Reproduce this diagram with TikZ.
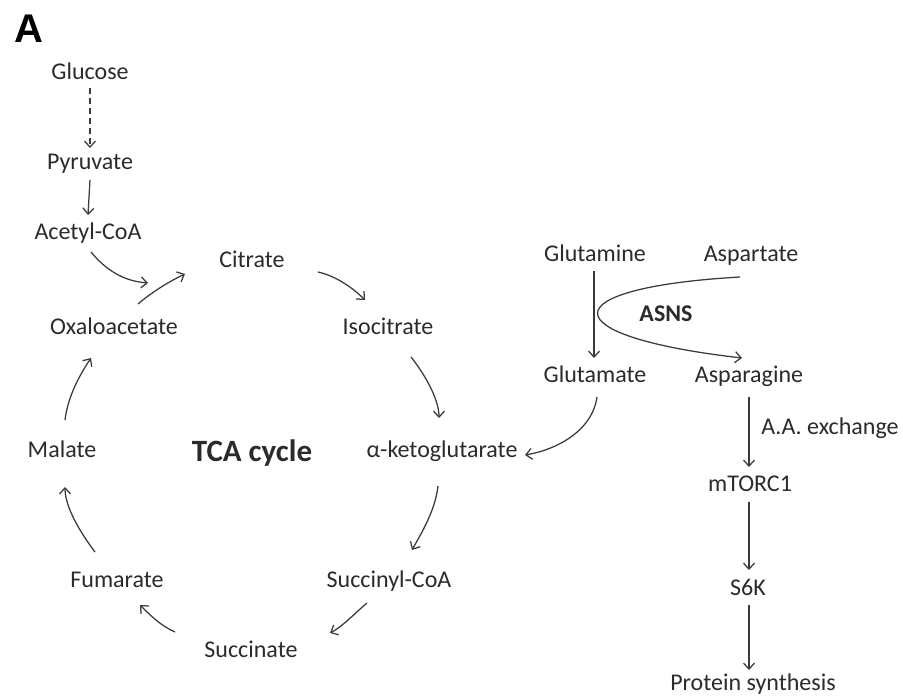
\documentclass[tikz,border=0pt]{standalone}
\usepackage{fontspec}
\setmainfont{Carlito}
\newfontfamily\panelfont{Liberation Sans}
\usetikzlibrary{arrows.meta}
\definecolor{txt}{HTML}{2B2B2B}
\definecolor{ln}{HTML}{3A3A3A}
\begin{document}
\begin{tikzpicture}[x=1pt,y=-1pt,
  lbl/.style={anchor=base,inner sep=0pt,text=txt,font=\fontsize{24}{28}\selectfont},
  blbl/.style={lbl,font=\fontsize{24}{28}\selectfont\bfseries},
  arr/.style={draw=ln,line width=1.25pt,-{Straight Barb[length=6pt,width=11pt]}}]
\useasboundingbox[fill=white] (0,0) rectangle (903,700);
\node[anchor=base,inner sep=0pt,font=\fontsize{40}{44}\panelfont\bfseries] (panel) at (29,43) {A};
\node[lbl] (glucose) at (90,80) {Glucose};
\node[lbl] (pyruvate) at (90,170) {Pyruvate};
\node[lbl] (acetyl) at (88,240) {Acetyl-CoA};
\node[lbl] (citrate) at (252,268) {Citrate};
\node[lbl] (oxalo) at (114,335) {Oxaloacetate};
\node[lbl] (isocit) at (388,335) {Isocitrate};
\node[lbl] (malate) at (62,458) {Malate};
\node[blbl,font=\fontsize{31}{34}\selectfont\bfseries] (tca) at (252,462) {TCA cycle};
\node[lbl] (akg) at (442,458) {α-ketoglutarate};
\node[lbl] (fumarate) at (117,587) {Fumarate};
\node[lbl] (succoa) at (389,587) {Succinyl-CoA};
\node[lbl] (succinate) at (251,657) {Succinate};
\node[lbl] (glutamine) at (595,262) {Glutamine};
\node[lbl] (aspartate) at (751,262) {Aspartate};
\node[blbl] (asns) at (666,322) {ASNS};
\node[lbl] (glutamate) at (595,383) {Glutamate};
\node[lbl] (asparagine) at (749,383) {Asparagine};
\node[lbl] (aa) at (830,435) {A.A. exchange};
\node[lbl] (mtorc) at (750,492) {mTORC1};
\node[lbl] (s6k) at (748,595) {S6K};
\node[lbl] (protein) at (753,690) {Protein synthesis};
% glycolysis
\draw[arr,dash pattern=on 6pt off 4pt] ([shift={(0,8)}]glucose.base) -- ([shift={(0,-22)}]pyruvate.base);
\draw[arr] ([shift={(0,10)}]pyruvate.base) -- ([shift={(0,-25)}]acetyl.base);
\draw[arr] ([shift={(3,12)}]acetyl.base) .. controls +(15,18) and +(-25,-2) .. ([shift={(-104,15)}]citrate.base);
\draw[arr] ([shift={(24,-31)}]oxalo.base) .. controls +(14,-12) and +(-15,7) .. ([shift={(-67,6)}]citrate.base);
% TCA cycle
\draw[arr] ([shift={(66,4)}]citrate.base) .. controls +(18,4) and +(-12,-12) .. ([shift={(-23,-35)}]isocit.base);
\draw[arr] ([shift={(23,22)}]isocit.base) .. controls +(12,15) and +(0,-20) .. ([shift={(-3,-40)}]akg.base);
\draw[arr] ([shift={(-4,28)}]akg.base) .. controls +(-3,25) and +(10,-18) .. ([shift={(23,-37)}]succoa.base);
\draw[arr] ([shift={(-22,16)}]succoa.base) .. controls +(-12,10) and +(12,-6) .. ([shift={(79,-24)}]succinate.base);
\draw[arr] ([shift={(-76,-25)}]succinate.base) .. controls +(-14,-6) and +(10,10) .. ([shift={(23,18)}]fumarate.base);
\draw[arr] ([shift={(-22,-35)}]fumarate.base) .. controls +(-15,-20) and +(0,20) .. ([shift={(3,29)}]malate.base);
\draw[arr] ([shift={(3,-38)}]malate.base) .. controls +(3,-25) and +(-10,15) .. ([shift={(-23,23)}]oxalo.base);
% asparagine pathway
\draw[arr] ([shift={(-1,9)}]glutamine.base) -- ([shift={(-1,-25)}]glutamate.base);
\draw[arr] ([shift={(-11,15)}]aspartate.base) .. controls +(-190,11) and +(-192,-22) .. ([shift={(-7,-25)}]asparagine.base);
\draw[arr] ([shift={(2,14)}]glutamate.base) .. controls +(-5,35) and +(30,-5) .. ([shift={(83,-3)}]akg.base);
\draw[arr] ([shift={(0,14)}]asparagine.base) -- ([shift={(-1,-25)}]mtorc.base);
\draw[arr] ([shift={(-1,10)}]mtorc.base) -- ([shift={(1,-25)}]s6k.base);
\draw[arr] ([shift={(1,10)}]s6k.base) -- ([shift={(-4,-20)}]protein.base);
\end{tikzpicture}
\end{document}
